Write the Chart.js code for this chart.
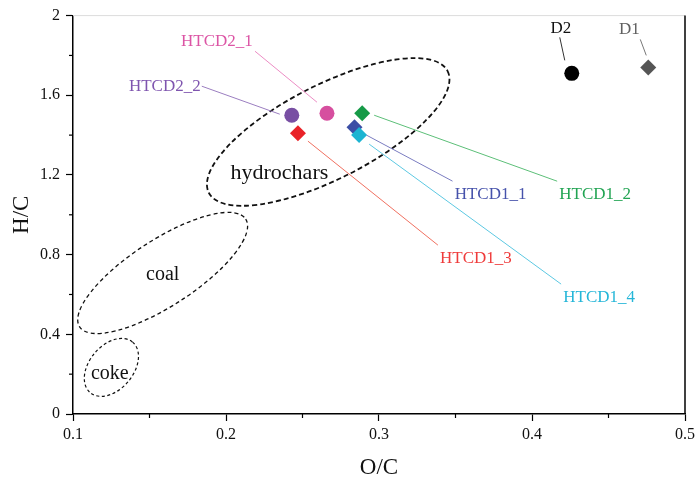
<!DOCTYPE html>
<html lang="en">
<head>
    <meta charset="UTF-8">
    <title>Van Krevelen diagram</title>
    <script src="https://cdn.jsdelivr.net/npm/chart.js"></script>
    <style>
        body { margin: 0; background: #fff; }
        #wrap { width: 699px; height: 486px; }
    </style>
</head>
<body>
    <div id="wrap"><canvas id="vk"></canvas></div>
    <script>
        // samples (first entry is drawn on top)
        const samples = ['HTCD1_4', 'HTCD1_1', 'HTCD1_2', 'HTCD1_3', 'HTCD2_1', 'HTCD2_2', 'D2', 'D1'];
        const oc = [0.287, 0.284, 0.289, 0.247, 0.266, 0.243, 0.426, 0.476];
        const hc = [1.40, 1.44, 1.51, 1.41, 1.51, 1.50, 1.71, 1.74];

        const xMinor = [0.15, 0.25, 0.35, 0.45];
        const yMinor = [0.2, 0.6, 1.0, 1.4, 1.8];

        const shapes = ['rectRot', 'rectRot', 'rectRot', 'rectRot', 'circle', 'circle', 'circle', 'rectRot'];
        const colors = ['#1cb4d2', '#3b4ea5', '#169a47', '#e92228', '#d64f9f', '#784fa3', '#000000', '#555555'];
        const textColors = ['#25b6d8', '#4652ab', '#22a453', '#ef3b3b', '#dc55a5', '#7f55af', '#111111', '#606060'];
        const lineColors = ['#5cc8e2', '#7a7cc0', '#5cbf78', '#f07060', '#ec8cc4', '#9b7ec0', '#333333', '#777777'];

        // label text offset and leader line ends, px relative to the point
        const labelLayout = {
            HTCD1_4: { t: [240, 162], a: [10, 9], b: [202, 149] },
            HTCD1_1: { t: [136, 67], a: [12, 8], b: [98, 54] },
            HTCD1_2: { t: [233, 81], a: [12, 2], b: [195, 68] },
            HTCD1_3: { t: [178, 125], a: [10, 8], b: [140, 112] },
            HTCD2_1: { t: [-110, -72], a: [-10, -11], b: [-72, -62] },
            HTCD2_2: { t: [-127, -29], a: [-12, -1], b: [-90, -29] },
            D2: { t: [-11, -45], a: [-7, -13], b: [-12, -36] },
            D1: { t: [-19, -38], a: [-2, -12], b: [-8, -28] }
        };

        // dashed regions: centre in data units, radii in px, tilt in degrees
        const regions = [
            { name: 'hydrochars', cx: 0.2668, cy: 1.416, rx: 134, ry: 47, rot: -27, lw: 1.8, dash: [5, 3], tx: 0.2349, ty: 1.207, size: 22 },
            { name: 'coal', cx: 0.1586, cy: 0.708, rx: 99, ry: 33, rot: -33, lw: 1.3, dash: [4, 3], tx: 0.1586, ty: 0.698, size: 20 },
            { name: 'coke', cx: 0.1251, cy: 0.234, rx: 33, ry: 22, rot: -50, lw: 1.2, dash: [3, 2.5], tx: 0.1241, ty: 0.2045, size: 20 }
        ];

        const serif = '"Liberation Serif", "Times New Roman", serif';
        const plainNumber = v => String(+v.toFixed(2));

        const regionPlugin = {
            id: 'regions',
            beforeDatasetsDraw(chart) {
                const ctx = chart.ctx;
                const xs = chart.scales.x, ys = chart.scales.y;
                ctx.save();
                regions.forEach(r => {
                    ctx.beginPath();
                    ctx.setLineDash(r.dash);
                    ctx.lineWidth = r.lw;
                    ctx.strokeStyle = '#111';
                    ctx.ellipse(xs.getPixelForValue(r.cx), ys.getPixelForValue(r.cy), r.rx, r.ry, r.rot * Math.PI / 180, 0, Math.PI * 2);
                    ctx.stroke();
                    ctx.setLineDash([]);
                    ctx.fillStyle = '#111';
                    ctx.font = r.size + 'px ' + serif;
                    ctx.textAlign = 'center';
                    ctx.textBaseline = 'middle';
                    ctx.fillText(r.name, xs.getPixelForValue(r.tx), ys.getPixelForValue(r.ty));
                });
                ctx.restore();
            }
        };

        const labelPlugin = {
            id: 'sampleLabels',
            afterDatasetsDraw(chart) {
                const ctx = chart.ctx;
                ctx.save();
                ctx.font = '17px ' + serif;
                ctx.textAlign = 'center';
                ctx.textBaseline = 'middle';
                samples.forEach((name, i) => {
                    const pt = chart.getDatasetMeta(i).data[0];
                    const L = labelLayout[name];
                    ctx.beginPath();
                    ctx.lineWidth = 1;
                    ctx.strokeStyle = lineColors[i];
                    ctx.moveTo(pt.x + L.a[0], pt.y + L.a[1]);
                    ctx.lineTo(pt.x + L.b[0], pt.y + L.b[1]);
                    ctx.stroke();
                    ctx.fillStyle = textColors[i];
                    ctx.fillText(name, pt.x + L.t[0], pt.y + L.t[1]);
                });
                ctx.restore();
            }
        };

        // frame on top/right plus the short minor ticks
        const framePlugin = {
            id: 'frame',
            afterDraw(chart) {
                const ctx = chart.ctx;
                const a = chart.chartArea;
                const xs = chart.scales.x, ys = chart.scales.y;
                ctx.save();
                ctx.lineWidth = 1;
                ctx.strokeStyle = '#dcdcdc';
                ctx.beginPath();
                ctx.moveTo(a.left, a.top);
                ctx.lineTo(a.right, a.top);
                ctx.stroke();
                ctx.lineWidth = 1.5;
                ctx.strokeStyle = '#000';
                ctx.beginPath();
                ctx.moveTo(a.right, a.top);
                ctx.lineTo(a.right, a.bottom);
                ctx.stroke();
                ctx.lineWidth = 1.2;
                xMinor.forEach(v => {
                    const px = xs.getPixelForValue(v);
                    ctx.beginPath();
                    ctx.moveTo(px, a.bottom);
                    ctx.lineTo(px, a.bottom + 4);
                    ctx.stroke();
                });
                yMinor.forEach(v => {
                    const py = ys.getPixelForValue(v);
                    ctx.beginPath();
                    ctx.moveTo(a.left, py);
                    ctx.lineTo(a.left - 4, py);
                    ctx.stroke();
                });
                ctx.restore();
            }
        };

        const datasets = samples.map((name, i) => ({
            label: name,
            data: [{ x: oc[i], y: hc[i] }],
            pointStyle: shapes[i],
            pointRadius: shapes[i] === 'circle' ? 7.5 : 8,
            backgroundColor: colors[i],
            borderColor: colors[i],
            borderWidth: 0
        }));

        new Chart(document.getElementById('vk'), {
            type: 'scatter',
            data: { datasets },
            options: {
                responsive: true,
                maintainAspectRatio: false,
                animation: false,
                layout: { padding: { left: 0, top: 13, right: 12, bottom: 0 } },
                plugins: { legend: { display: false }, tooltip: { enabled: false } },
                scales: {
                    x: {
                        type: 'linear',
                        min: 0.1,
                        max: 0.5,
                        afterFit(scale) { scale.height = 72; },
                        ticks: { stepSize: 0.1, padding: 4, color: '#111', font: { family: serif, size: 16 }, callback: plainNumber },
                        grid: { drawOnChartArea: false, tickLength: 7, tickColor: '#000', tickWidth: 1.2 },
                        border: { color: '#000', width: 1.5 },
                        title: { display: true, text: 'O/C', color: '#111', font: { family: serif, size: 23 }, padding: { top: 0, bottom: 4 } }
                    },
                    y: {
                        min: 0,
                        max: 2,
                        afterFit(scale) { scale.width = 73; },
                        ticks: { stepSize: 0.4, padding: 6, color: '#111', font: { family: serif, size: 16 }, callback: plainNumber },
                        grid: { drawOnChartArea: false, tickLength: 7, tickColor: '#000', tickWidth: 1.2 },
                        border: { color: '#000', width: 1.5 },
                        title: { display: true, text: 'H/C', color: '#111', font: { family: serif, size: 23 }, padding: { top: 8, bottom: 0 } }
                    }
                }
            },
            plugins: [regionPlugin, labelPlugin, framePlugin]
        });
    </script>
</body>
</html>
